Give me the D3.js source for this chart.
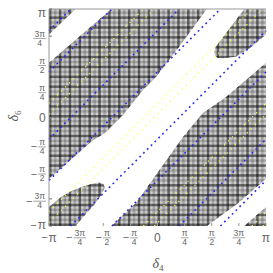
<!DOCTYPE html>
<html>
<head>
<meta charset="utf-8">
<script src="https://cdn.jsdelivr.net/npm/d3@7"></script>
<style>
  body { margin: 0; background: #fff; }
  svg { display: block; }
</style>
</head>
<body>
<svg id="chart"></svg>
<script>
// all angles in units of pi
const ticks = [-1, -0.75, -0.5, -0.25, 0, 0.25, 0.5, 0.75, 1];
const tickSign = ["−", "−", "−", "−", "", "", "", "", ""];
const tickNum = ["π", "3π", "π", "π", "0", "π", "π", "3π", "π"];
const tickDen = ["", "4", "2", "4", "", "4", "2", "4", ""];

// offsets c of the lines delta6 = delta4 + c
const blueOffsets = [1.8, 1.42, 0.8, 0.42, -0.2, -0.58, -1.2, -1.58];
const yellowOffsets = [1.13, 1.03, 0.13, 0.03, -0.87, -0.97, -1.87, -1.97];

// shaded regions, [delta4, delta6]
const regionA = [[-1, 1], [-0.755, 1], [-1, 0.765]];
const regionB = [[-1, 0.505], [-0.425, 1], [0.455, 1], [0.198, 0.65], [-0.014, 0.373], [-0.134, 0.253],
  [-0.318, 0.023], [-0.484, -0.143], [-0.604, -0.217], [-0.76, -0.355], [-1, -0.565]];
const regionC = [[1, 0.505], [0.816, 0.346], [0.631, 0.189], [0.419, 0.041], [0.235, -0.18], [0.018, -0.484],
  [-0.198, -0.788], [-0.425, -1], [0.455, -1], [0.742, -0.79], [1, -0.565]];
const regionD = [[0.8, 1], [1, 1], [1, 0.765], [0.853, 0.641], [0.72, 0.56], [0.6, 0.545], [0.55, 0.55],
  [0.528, 0.575], [0.525, 0.61], [0.535, 0.65]];
const regionE = [[-1, -1], [-0.755, -1], [-0.668, -0.899], [-0.58, -0.8], [-0.51, -0.7], [-0.485, -0.645],
  [-0.5, -0.61], [-0.54, -0.6], [-0.6, -0.61], [-0.7, -0.64], [-0.8, -0.68], [-0.899, -0.74], [-1, -0.825]];
const regionF = [[0.8, -1], [1, -1], [1, -0.825]];
const regions = [regionA, regionB, regionC, regionD, regionE, regionF];

// plaid texture: darkness of the repeating stripes
const bandPattern = [0.5, 0.0, 0.18, 0.0];
const bandCount = 88;

const width = 273, height = 273;
const svg = d3.select("#chart").attr("width", width).attr("height", height);

const x = d3.scaleLinear().domain([-1, 1]).range([49, 266]);
const y = d3.scaleLinear().domain([-1, 1]).range([226, 9]);

const line = d3.line().x(d => x(d[0])).y(d => y(d[1]));
const closed = d3.line().x(d => x(d[0])).y(d => y(d[1])).curve(d3.curveLinearClosed);

// clip for the shaded regions
const defs = svg.append("defs");
const clip = defs.append("clipPath").attr("id", "shade");
clip.selectAll("path").data(regions).enter().append("path")
  .attr("d", d => closed(d));

const shade = svg.append("g").attr("clip-path", "url(#shade)");
shade.append("rect")
  .attr("x", x(-1)).attr("y", y(1))
  .attr("width", x(1) - x(-1)).attr("height", y(-1) - y(1))
  .attr("fill", "#cdcdcd");

const band = d3.scaleBand().domain(d3.range(bandCount)).range([x(-1), x(1)]);
const bandY = d3.scaleBand().domain(d3.range(bandCount)).range([y(1), y(-1)]);

shade.selectAll(".col").data(d3.range(bandCount)).enter().append("rect")
  .attr("class", "col")
  .attr("x", i => band(i)).attr("y", y(1))
  .attr("width", band.bandwidth() + 0.01).attr("height", y(-1) - y(1))
  .attr("fill", "#000")
  .attr("opacity", i => bandPattern[i % bandPattern.length]);

shade.selectAll(".row").data(d3.range(bandCount)).enter().append("rect")
  .attr("class", "row")
  .attr("x", x(-1)).attr("y", i => bandY(i))
  .attr("width", x(1) - x(-1)).attr("height", bandY.bandwidth() + 0.01)
  .attr("fill", "#000")
  .attr("opacity", i => bandPattern[(i + 1) % bandPattern.length]);

// dotted diagonal lines
function diag(c) {
  const a = Math.max(-1, -1 - c), b = Math.min(1, 1 - c);
  return [[a, a + c], [b, b + c]];
}

svg.append("g").selectAll("path").data(yellowOffsets).enter().append("path")
  .attr("d", c => line(diag(c)))
  .attr("fill", "none")
  .attr("stroke", "#ffff30")
  .attr("stroke-width", 1.2)
  .attr("stroke-dasharray", "1.2 4.5");

svg.append("g").selectAll("path").data(blueOffsets).enter().append("path")
  .attr("d", c => line(diag(c)))
  .attr("fill", "none")
  .attr("stroke", "#2a2aee")
  .attr("stroke-width", 1.6)
  .attr("stroke-dasharray", "1.8 3.6");

// frame
svg.append("line").attr("x1", x(-1)).attr("x2", x(-1)).attr("y1", y(1)).attr("y2", y(-1))
  .attr("stroke", "#999").attr("stroke-width", 1);
svg.append("line").attr("x1", x(-1)).attr("x2", x(1)).attr("y1", y(1)).attr("y2", y(1))
  .attr("stroke", "#999").attr("stroke-width", 1);

svg.append("g").selectAll("line").data(ticks).enter().append("line")
  .attr("x1", x(-1)).attr("x2", x(-1) + 3)
  .attr("y1", d => y(d)).attr("y2", d => y(d))
  .attr("stroke", "#777");
svg.append("g").selectAll("line").data(ticks).enter().append("line")
  .attr("x1", d => x(d)).attr("x2", d => x(d))
  .attr("y1", y(-1)).attr("y2", y(-1) - 3)
  .attr("stroke", "#999");

// tick labels
const labelColor = "#666";
const font = "Liberation Sans, Arial, sans-serif";

function tickLabel(parent, i) {
  const g = parent.append("g").attr("fill", labelColor).attr("font-family", font);
  let pos = 0;
  if (tickSign[i]) {
    const t = g.append("text").attr("x", 0).attr("dy", "0.35em").attr("font-size", 11).text(tickSign[i]);
    pos = t.node().getComputedTextLength() + 1;
  }
  if (!tickDen[i]) {
    g.append("text").attr("x", pos).attr("dy", "0.35em").attr("font-size", 12).text(tickNum[i]);
  } else {
    const num = g.append("text").attr("font-size", 8.5).attr("text-anchor", "middle").text(tickNum[i]);
    const den = g.append("text").attr("font-size", 8.5).attr("text-anchor", "middle").text(tickDen[i]);
    const w = Math.max(num.node().getComputedTextLength(), den.node().getComputedTextLength()) + 2;
    num.attr("x", pos + w / 2).attr("y", -1.6);
    den.attr("x", pos + w / 2).attr("y", 7.6);
    g.append("line").attr("x1", pos).attr("x2", pos + w).attr("y1", 0.3).attr("y2", 0.3)
      .attr("stroke", labelColor).attr("stroke-width", 0.6);
  }
  return g;
}

ticks.forEach((t, i) => {
  const g = tickLabel(svg, i);
  const bb = g.node().getBBox();
  g.attr("transform", `translate(${x(t) - (bb.x + bb.width / 2)},237.5)`);
});

ticks.forEach((t, i) => {
  const g = tickLabel(svg, i);
  const bb = g.node().getBBox();
  const cy = tickDen[i] ? y(t) + 2 : Math.min(Math.max(y(t), 13), 225);
  g.attr("transform", `translate(${46 - (bb.x + bb.width)},${cy})`);
});

// axis titles
const xt = svg.append("text")
  .attr("x", 158).attr("y", 268)
  .attr("text-anchor", "middle")
  .attr("fill", "#555")
  .attr("font-family", "Liberation Serif, serif")
  .attr("font-size", 14);
xt.append("tspan").attr("font-style", "italic").text("δ");
xt.append("tspan").attr("font-size", 9).attr("dy", 3).text("4");

const yt = svg.append("text")
  .attr("transform", "translate(18,116) rotate(-90)")
  .attr("text-anchor", "middle")
  .attr("fill", "#555")
  .attr("font-family", "Liberation Serif, serif")
  .attr("font-size", 14);
yt.append("tspan").attr("font-style", "italic").text("δ");
yt.append("tspan").attr("font-size", 9).attr("dy", 3).text("6");
</script>
</body>
</html>
